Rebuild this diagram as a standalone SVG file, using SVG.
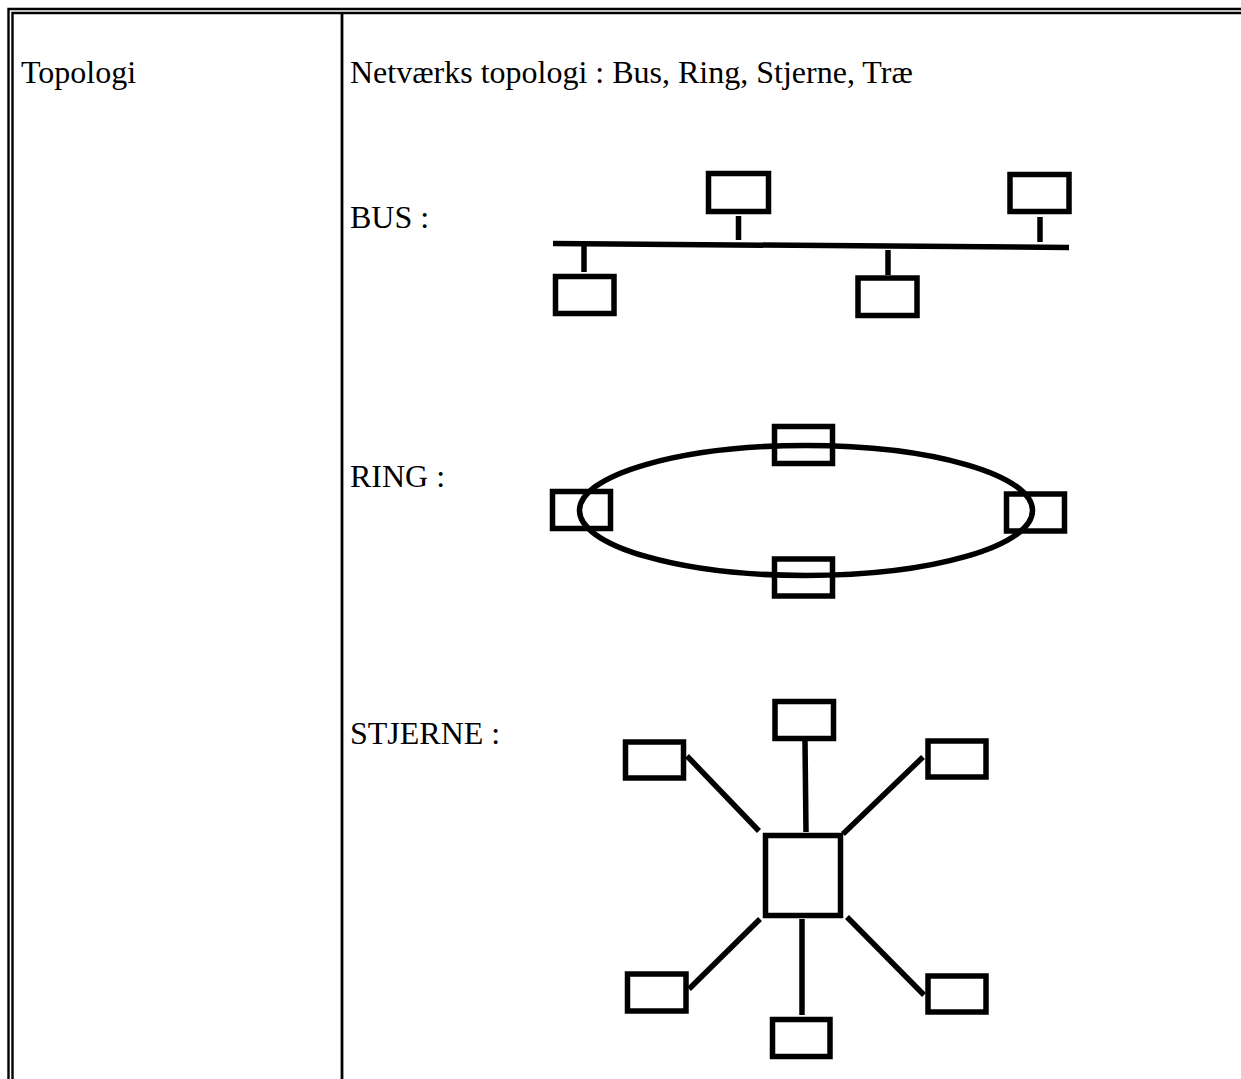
<svg xmlns="http://www.w3.org/2000/svg" width="1241" height="1079" viewBox="0 0 1241 1079">
<style>
.t{font-family:"Liberation Serif","Times New Roman",serif;font-size:32px;fill:#000}
.b{fill:#fff;stroke:#000;stroke-width:5.5}
.c{fill:none;stroke:#000;stroke-width:5.5}
.g{stroke:#000;fill:none}
</style>
<rect width="1241" height="1079" fill="#fff"/>
<g id="table" class="g">
<path d="M8.5 1079V9H1241" stroke-width="2.4"/>
<path d="M12.5 1079V13H1241" stroke-width="2.4"/>
<path d="M342 13V1079" stroke-width="2.8"/>
</g>
<g id="labels">
<text class="t" x="21" y="83">Topologi</text>
<text class="t" x="350" y="83">Netværks topologi : Bus, Ring, Stjerne, Træ</text>
<text class="t" x="350" y="228">BUS :</text>
<text class="t" x="350" y="487">RING :</text>
<text class="t" x="350" y="744">STJERNE :</text>
</g>
<g id="connectors">
<line class="c" x1="553" y1="243.5" x2="1069" y2="247.5"/>
<line class="c" x1="738.5" y1="216" x2="738.5" y2="240"/>
<line class="c" x1="1040" y1="217" x2="1040" y2="242"/>
<line class="c" x1="584" y1="246" x2="584" y2="272"/>
<line class="c" x1="888" y1="250" x2="888" y2="275"/>
<ellipse id="ring" class="c" cx="806" cy="510.5" rx="226.5" ry="65"/>
<line class="c" x1="805" y1="741" x2="806" y2="832"/>
<line class="c" x1="687" y1="756" x2="759" y2="831"/>
<line class="c" x1="923" y1="757" x2="843" y2="834"/>
<line class="c" x1="760" y1="919" x2="689" y2="989"/>
<line class="c" x1="802" y1="919" x2="802" y2="1015"/>
<line class="c" x1="847" y1="917" x2="924" y2="995"/>
</g>
<g id="bus-top-1"><rect class="b" x="708.5" y="173.5" width="60" height="38"/></g>
<g id="bus-top-2"><rect class="b" x="1010" y="174.5" width="59" height="37"/></g>
<g id="bus-bottom-1"><rect class="b" x="555.5" y="276.5" width="58.5" height="37"/></g>
<g id="bus-bottom-2"><rect class="b" x="858" y="278" width="59" height="37.5"/></g>
<g id="ring-top"><rect class="c" x="774.5" y="426.5" width="58" height="37"/></g>
<g id="ring-bottom"><rect class="c" x="774.5" y="559" width="58" height="37"/></g>
<g id="ring-left"><rect class="c" x="552.5" y="491.5" width="58" height="37"/></g>
<g id="ring-right"><rect class="c" x="1006.5" y="494" width="58" height="37"/></g>
<g id="star-hub"><rect class="b" x="765.5" y="835.5" width="75" height="80"/></g>
<g id="star-top"><rect class="b" x="775" y="701.5" width="58.5" height="37"/></g>
<g id="star-top-left"><rect class="b" x="625.5" y="742" width="58" height="36"/></g>
<g id="star-top-right"><rect class="b" x="928" y="741" width="58" height="36"/></g>
<g id="star-bottom-left"><rect class="b" x="627.5" y="974" width="58.5" height="37"/></g>
<g id="star-bottom"><rect class="b" x="772.5" y="1019.5" width="57.5" height="37"/></g>
<g id="star-bottom-right"><rect class="b" x="928" y="976" width="58" height="36"/></g>
</svg>
